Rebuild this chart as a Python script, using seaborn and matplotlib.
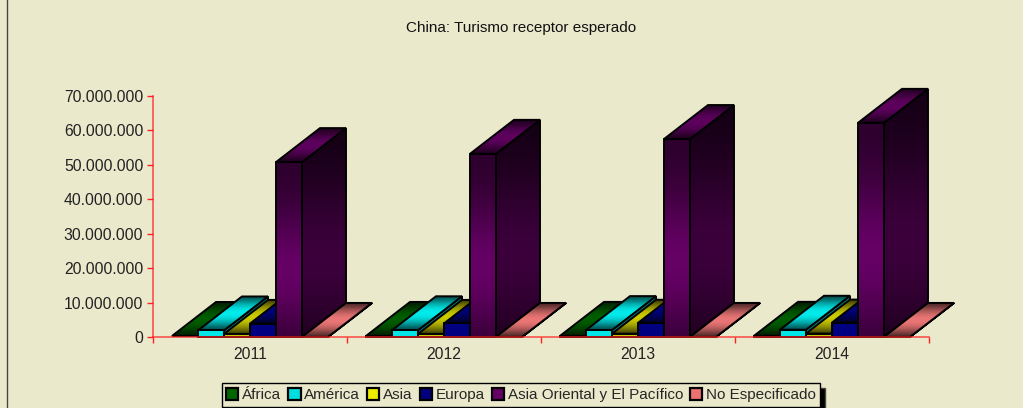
import numpy as np
import pandas as pd
import seaborn as sns
from matplotlib import pyplot as plt
from matplotlib.colors import to_rgb
from matplotlib.lines import Line2D
from matplotlib.patches import Polygon

years = ["2011", "2012", "2013", "2014"]
africa = [300000, 310000, 320000, 340000]
america = [1900000, 1950000, 2000000, 2100000]
asia = [900000, 900000, 950000, 1000000]
europa = [3900000, 3950000, 4100000, 4200000]
asia_oriental = [50800000, 53200000, 57500000, 62200000]
no_especificado = [20000, 20000, 20000, 20000]

series = ["África", "América", "Asia", "Europa", "Asia Oriental y El Pacífico", "No Especificado"]
colors = ["#006600", "#00ffff", "#dddd00", "#000090", "#660066", "#ff8080"]
legend_colors = ["#006600", "#00dddd", "#eeee00", "#000080", "#660066", "#ee7070"]
values = [africa, america, asia, europa, asia_oriental, no_especificado]

BG = "#ebe9cc"
RED = "#ff2222"
W, H = 1023, 408

rows = []
for name, vals in zip(series, values):
    for y, v in zip(years, vals):
        rows.append({"year": y, "serie": name, "turistas": v})
df = pd.DataFrame(rows)

sns.set_style("white")
plt.rcParams['font.family'] = ['Liberation Sans', 'DejaVu Sans']

fig = plt.figure(figsize=(W / 100, H / 100), dpi=100, facecolor=BG)
ax = fig.add_axes([153 / W, 1 - 337 / H, 776 / W, 241 / H], facecolor="none")

sns.barplot(data=df, x="year", y="turistas", hue="serie", hue_order=series,
            palette=legend_colors, width=0.804, gap=0, saturation=1,
            edgecolor="black", linewidth=1.6, ax=ax)

ax.set_xlim(-0.5, 3.5)
ax.set_ylim(0, 70000000)
ax.set_xlabel("")
ax.set_ylabel("")

handles, labels = ax.get_legend_handles_labels()
leg = ax.legend(handles, labels, ncol=6, loc="center", bbox_to_anchor=(521 / W, 1 - 395 / H),
                bbox_transform=fig.transFigure, fontsize=11, frameon=True, fancybox=False,
                edgecolor="black", facecolor=BG, framealpha=1,
                shadow={"ox": 3, "oy": -3, "facecolor": "black", "alpha": 1},
                handlelength=0.8, handleheight=0.8, handletextpad=0.25, columnspacing=0.45,
                borderpad=0.3, borderaxespad=0)
leg.get_frame().set_linewidth(1)

# depth of the fake 3d boxes, in data units
DX = 44 / 194
DY = 34 / 241 * 70000000


def gradient(col, factors):
    base = np.array(to_rgb(col))
    return np.clip(np.outer(factors, base), 0, 1).reshape(len(factors), 1, 3)


def fill(poly, col, factors, z):
    pts = np.array(poly)
    p = Polygon(pts, closed=True, facecolor="none", edgecolor="black", linewidth=1.4,
                zorder=z + 0.0002, clip_on=False, joinstyle="miter")
    ax.add_patch(p)
    im = ax.imshow(gradient(col, factors), extent=(pts[:, 0].min(), pts[:, 0].max(),
                                                   pts[:, 1].min(), pts[:, 1].max()),
                   origin="upper", aspect="auto", zorder=z + 0.0001, interpolation="bilinear")
    # the depth goes above the axes top, only the polygon may clip the image
    im.set_clip_box(fig.bbox)
    im.set_clip_path(p)


t = np.linspace(0, 1, 60)
front_prof = 0.42 + 0.58 * np.exp(-((t - 0.62) / 0.35) ** 2)
side_prof = 0.16 + 0.42 * np.exp(-((t - 0.62) / 0.4) ** 2)
top_prof = 0.3 + 0.62 * np.sin(np.pi * t) ** 1.2
flat = np.ones(4)

z = 3.0
bars = []
for cont, col in zip(ax.containers, colors):
    for b in cont:
        bars.append((b.get_x(), b, col))
bars.sort(key=lambda r: r[0])
for x0, b, col in bars:
    w = b.get_width()
    h = b.get_height()
    x1 = x0 + w
    short = h < 10000000
    fill([(x1, 0), (x1 + DX, DY), (x1 + DX, h + DY), (x1, h)], col,
         flat * 0.55 if short else side_prof, z)
    fill([(x0, h), (x1, h), (x1 + DX, h + DY), (x0 + DX, h + DY)], col, top_prof, z + 0.001)
    if h > 300000:
        fill([(x0, 0), (x1, 0), (x1, h), (x0, h)], col,
             flat * 0.9 if short else front_prof, z + 0.002)
    b.set_visible(False)
    z += 0.01
ax.set_xlim(-0.5, 3.5)
ax.set_ylim(0, 70000000)

ax.set_yticks(np.arange(0, 70000001, 10000000))
ax.set_yticklabels([f"{v:,.0f}".replace(",", ".") for v in np.arange(0, 70000001, 10000000)])
ax.set_xticks([0, 1, 2, 3])
ax.set_xticklabels(years)
ax.set_xticks([-0.5, 0.5, 1.5, 2.5, 3.5], minor=True)
ax.tick_params(axis="x", which="major", length=0, labelsize=11.3, pad=7, colors="#222222")
ax.tick_params(axis="x", which="minor", length=4, width=1, color=RED, direction="out", bottom=True)
ax.tick_params(axis="y", length=4, width=1, color=RED, labelsize=11.3, pad=3, labelcolor="#222222", left=True)

sns.despine(ax=ax)
for side in ["left", "bottom"]:
    ax.spines[side].set_color(RED)
    ax.spines[side].set_linewidth(1.2)
    ax.spines[side].set_alpha(0.75)
    ax.spines[side].set_zorder(10)

fig.text(521 / W, 1 - 28 / H, "China: Turismo receptor esperado", ha="center", va="center",
         fontsize=11, color="#111111")

fig.add_artist(Line2D([6.5 / W, 6.5 / W], [0, 1], color="#444444", linewidth=1))

fig.savefig("out.png", dpi=100, facecolor=BG)
